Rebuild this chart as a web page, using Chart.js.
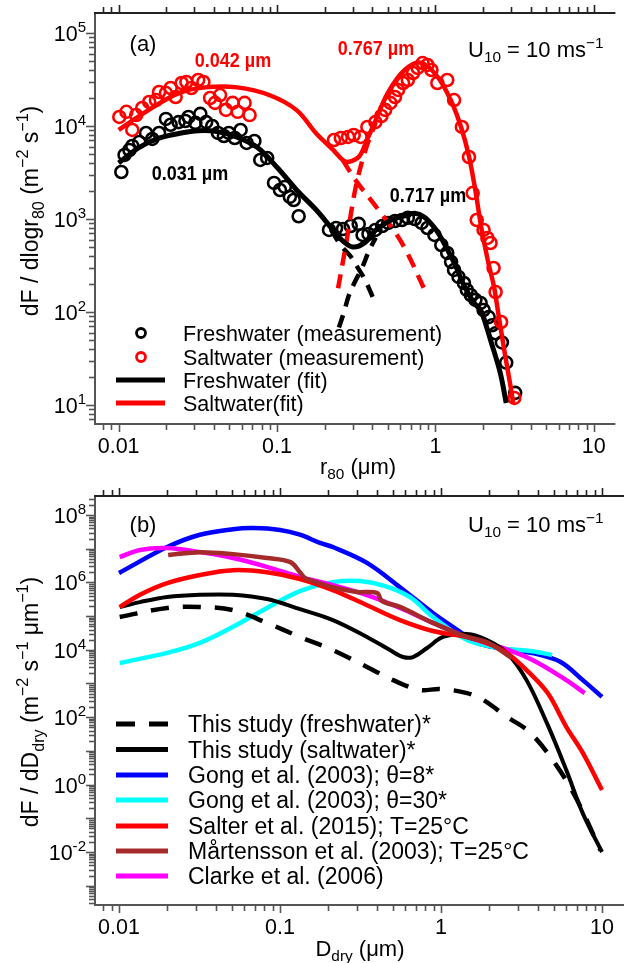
<!DOCTYPE html>
<html>
<head>
<meta charset="utf-8">
<script src="https://cdn.jsdelivr.net/npm/chart.js@4.4.1/dist/chart.umd.min.js"></script>
<style>
html, body { margin: 0; padding: 0; background: #fff; }
#wrap { position: relative; width: 624px; height: 963px; overflow: hidden; }
canvas { position: absolute; left: 0; }
#chartA { top: 0; }
#chartB { top: 480px; }
</style>
</head>
<body>
<div id="wrap">
  <canvas id="chartA" width="624" height="480"></canvas>
  <canvas id="chartB" width="624" height="483"></canvas>
</div>
<script>
// ---- tick labels ----
const xTickVals = [0.01, 0.1, 1, 10];
const xTickLabels = ['0.01', '0.1', '1', '10'];
const yExpA = [1, 2, 3, 4, 5];
const yExpB = [-2, 0, 2, 4, 6, 8];

// ---- panel (a): measurements ----
const freshMeasX = [0.0104, 0.0109, 0.0117, 0.0122, 0.0135, 0.0149, 0.0163, 0.0180, 0.0199, 0.0213, 0.0239, 0.0264, 0.0276, 0.0305, 0.0328, 0.0357, 0.0390, 0.0424, 0.0462, 0.0496, 0.0541, 0.0589, 0.0643, 0.0720, 0.0784, 0.0867, 0.0958, 0.1044, 0.112, 0.1205, 0.1276, 0.137,
  0.213, 0.236, 0.261, 0.292, 0.328, 0.347, 0.378, 0.418, 0.462, 0.504, 0.556, 0.615, 0.670, 0.741, 0.819, 0.891, 0.986, 1.09, 1.188, 1.257, 1.312, 1.40, 1.514, 1.58, 1.675, 1.79, 1.93, 2.015, 2.17, 2.28, 2.40, 2.63, 2.80, 3.19];
const freshMeasY = [3200, 4880, 5520, 6100, 6730, 8410, 7250, 8410, 11900, 10300, 11000, 11300, 12500, 10800, 13500, 11000, 10000, 8410, 7800, 8410, 7430, 9060, 6570, 6900, 4310, 4530, 2440, 2050, 2210, 1730, 1600, 1070,
  762, 800, 780, 840, 885, 673, 690, 762, 840, 906, 950, 975, 1030, 1000, 906, 800, 673, 525, 431, 346, 283, 238, 205, 173, 152, 135, 125, 105, 88, 72, 59, 47, 28.5, 13.5];
const saltMeasX = [0.0101, 0.0112, 0.0122, 0.0129, 0.0141, 0.0156, 0.0172, 0.0180, 0.0199, 0.0213, 0.0229, 0.0250, 0.0268, 0.0288, 0.0318, 0.0343, 0.0378, 0.0406, 0.0437, 0.0476, 0.0525, 0.0565, 0.0624, 0.0671,
  0.229, 0.253, 0.281, 0.305, 0.337, 0.372, 0.418, 0.456, 0.482, 0.52, 0.556, 0.581, 0.625, 0.670, 0.723, 0.773, 0.83, 0.891, 0.944, 1.029, 1.188, 1.312, 1.47, 1.63, 1.72, 1.825, 2.015, 2.13, 2.23, 2.33, 2.40, 2.60, 3.15];
const saltMeasY = [12500, 14200, 9060, 13100, 15600, 18100, 19000, 23200, 22600, 25600, 20500, 29000, 29700, 25600, 31200, 29700, 20000, 17700, 21500, 14900, 17700, 14200, 17700, 13100,
  7070, 7430, 7620, 8000, 7620, 9760, 11000, 12800, 14900, 17700, 20500, 24400, 29000, 31200, 37100, 42100, 47500, 45300, 40000, 29000, 31200, 19000, 9760, 4640, 1900, 975, 762, 625, 552, 297, 164, 78, 11.9];

// ---- panel (a): fits and modes ----
const freshFitX = [0.01, 0.0135, 0.018, 0.024, 0.032, 0.042, 0.056, 0.075, 0.1, 0.133, 0.177, 0.2, 0.25, 0.3, 0.36, 0.42, 0.53, 0.64, 0.74, 0.85, 0.99, 1.09, 1.25, 1.37, 1.5, 1.75, 1.93, 2.1, 2.23, 2.57, 2.8];
const freshFitY = [4000, 5900, 7400, 8300, 8900, 8700, 7600, 5900, 3600, 2050, 1250, 980, 620, 500, 560, 760, 980, 1080, 1150, 1050, 800, 620, 400, 290, 200, 126, 105, 70, 50, 22, 10.5];
const saltFitX = [0.01, 0.0156, 0.024, 0.035, 0.056, 0.09, 0.133, 0.177, 0.227, 0.26, 0.28, 0.33, 0.37, 0.42, 0.5, 0.64, 0.81, 1.03, 1.25, 1.45, 1.63, 1.8, 1.95, 2.15, 2.34, 2.5, 2.75, 3.0, 3.1];
const saltFitY = [9100, 15000, 22600, 26000, 26000, 21400, 14800, 8300, 5500, 4300, 4100, 4700, 7100, 11500, 22600, 40000, 48000, 34000, 19000, 9800, 4700, 1900, 800, 350, 190, 95, 35, 15, 10.5];
const freshMode1X = [0.22, 0.253, 0.29, 0.314, 0.36, 0.41];
const freshMode1Y = [760, 520, 400, 325, 220, 134];
const freshMode2X = [0.246, 0.265, 0.284, 0.31, 0.345, 0.38, 0.42];
const freshMode2Y = [68, 100, 150, 210, 300, 450, 630];
const saltMode1X = [0.26, 0.314, 0.436, 0.615, 0.89];
const saltMode1Y = [4300, 2600, 1260, 550, 150];
const saltMode2X = [0.243, 0.272, 0.314, 0.362, 0.42];
const saltMode2Y = [180, 520, 2200, 5500, 11000];

// ---- panel (b): parameterisations ----
const freshStudyX = [0.0101, 0.0199, 0.0318, 0.0511, 0.083, 0.133, 0.213, 0.347, 0.504, 0.741, 0.986, 1.45, 1.83, 2.57, 3.6, 5.3, 7.0, 9.8];
const freshStudyY = [9.4e4, 1.75e5, 1.87e5, 1.5e5, 6.3e4, 2.4e4, 9800, 3100, 1260, 640, 690, 520, 325, 102, 34, 3.3, 0.35, 0.011];
const saltStudyX = [0.0101, 0.0135, 0.0199, 0.0318, 0.0511, 0.083, 0.133, 0.213, 0.347, 0.482, 0.581, 0.670, 0.819, 1.03, 1.45, 1.93, 2.57, 3.4, 4.6, 6.0, 7.6, 10];
const saltStudyY = [1.85e5, 2.6e5, 3.7e5, 4.3e5, 4.3e5, 3.2e5, 1.6e5, 7.6e4, 2.4e4, 9800, 6100, 6100, 1.13e4, 2.4e4, 2.95e4, 1.95e4, 8000, 1260, 59, 2.7, 0.14, 0.01];
const gong8X = [0.01, 0.0199, 0.0318, 0.0511, 0.068, 0.1, 0.133, 0.177, 0.213, 0.347, 0.556, 0.891, 1.26, 1.675, 2.33, 3.7, 5.5, 7.6, 10];
const gong8Y = [1.9e6, 1.12e7, 2.6e7, 3.8e7, 4.1e7, 3.6e7, 2.6e7, 1.48e7, 1.12e7, 3.8e6, 7.2e5, 1.23e5, 3.9e4, 1.6e4, 1.12e4, 8000, 4400, 1260, 400];
const gong30X = [0.0101, 0.0199, 0.0318, 0.0511, 0.083, 0.133, 0.213, 0.314, 0.45, 0.64, 0.891, 1.45, 2.33, 3.7, 4.9];
const gong30Y = [4070, 8100, 1.6e4, 4.8e4, 1.75e5, 5.5e5, 1.02e6, 1.1e6, 7.8e5, 3.7e5, 9.4e4, 1.95e4, 1.12e4, 9100, 7000];
const salterX = [0.0101, 0.0135, 0.0199, 0.0318, 0.0511, 0.083, 0.133, 0.213, 0.347, 0.556, 0.891, 1.45, 1.93, 2.57, 3.4, 4.6, 6.0, 7.6, 10];
const salterY = [1.85e5, 4.3e5, 9.5e5, 1.66e6, 2.3e6, 2.0e6, 1.26e6, 5.9e5, 2.1e5, 7.6e4, 3.6e4, 2.4e4, 1.58e4, 8000, 2500, 520, 52, 8.7, 0.69];
const martX = [0.0202, 0.0318, 0.0511, 0.083, 0.116, 0.133, 0.143, 0.154, 0.213, 0.301, 0.40, 0.43, 0.556, 0.891, 1.45, 1.93, 2.33, 2.75];
const martY = [6.5e6, 7.9e6, 6.9e6, 5.3e6, 4.0e6, 2.0e6, 1.35e6, 1.17e6, 7.2e5, 5.2e5, 4.9e5, 2.8e5, 1.87e5, 6.3e4, 2.4e4, 1.7e4, 9800, 5700];
const clarkeX = [0.0101, 0.0135, 0.0199, 0.0318, 0.0511, 0.083, 0.133, 0.213, 0.347, 0.556, 0.891, 1.45, 2.33, 3.7, 6.0, 7.8];
const clarkeY = [5.6e6, 9.2e6, 1.05e7, 7.9e6, 5.3e6, 2.9e6, 1.45e6, 8.3e5, 4.2e5, 1.75e5, 6.3e4, 2.4e4, 1.2e4, 5000, 1260, 520];

const FONT = '"Liberation Sans", Arial, Helvetica, sans-serif';

function pts(xs, ys) {
  return xs.map((x, i) => ({ x: x, y: ys[i] }));
}

// draw text with sub/superscript parts, y is the baseline
function rich(ctx, parts, x, y, size, align) {
  const segs = parts.map(p => {
    const mode = p[1] || '';
    const s = mode ? size * 0.7 : size;
    ctx.font = s + 'px ' + FONT;
    return { t: p[0], mode: mode, s: s, w: ctx.measureText(p[0]).width };
  });
  const total = segs.reduce((a, b) => a + b.w, 0);
  let cx = align === 'center' ? x - total / 2 : align === 'right' ? x - total : x;
  ctx.textAlign = 'left';
  ctx.textBaseline = 'alphabetic';
  segs.forEach(sg => {
    ctx.font = sg.s + 'px ' + FONT;
    const dy = sg.mode === 'sup' ? -size * 0.42 : sg.mode === 'sub' ? size * 0.24 : 0;
    ctx.fillText(sg.t, cx, y + dy);
    cx += sg.w;
  });
}

function line(ctx, x1, y1, x2, y2) {
  ctx.beginPath();
  ctx.moveTo(x1, y1);
  ctx.lineTo(x2, y2);
  ctx.stroke();
}

// box, log ticks and tick labels
function drawAxes(chart, yExp, xLabelBase) {
  const ctx = chart.ctx;
  const a = chart.chartArea;
  const xs = chart.scales.x, ys = chart.scales.y;
  ctx.save();
  ctx.lineWidth = 2;
  ctx.strokeStyle = '#555';
  line(ctx, a.left - 1, a.top - 2, a.left - 1, a.bottom + 2);
  line(ctx, a.left - 2, a.bottom + 1, a.right, a.bottom + 1);
  ctx.strokeStyle = '#222';
  line(ctx, a.left - 2, a.top - 1, a.right, a.top - 1);

  ctx.lineWidth = 1.6;
  for (let d = -3; d <= 1; d++) {
    for (let k = 1; k <= 9; k++) {
      const v = k * Math.pow(10, d);
      if (v < xs.min || v > xs.max) continue;
      const px = Math.round(xs.getPixelForValue(v)) + 0.5;
      const len = k === 1 ? 7 : 5;
      ctx.strokeStyle = '#555';
      line(ctx, px, a.bottom + 2, px, a.bottom + 2 + len);
      ctx.strokeStyle = '#222';
      line(ctx, px, a.top - 2, px, a.top - 2 - len);
    }
  }
  ctx.strokeStyle = '#555';
  const d0 = Math.floor(Math.log10(ys.min)), d1 = Math.ceil(Math.log10(ys.max));
  for (let d = d0; d <= d1; d++) {
    for (let k = 1; k <= 9; k++) {
      const v = k * Math.pow(10, d);
      if (v < ys.min || v > ys.max) continue;
      const py = Math.round(ys.getPixelForValue(v)) + 0.5;
      const len = k === 1 ? 8 : 5;
      line(ctx, a.left - 2, py, a.left - 2 - len, py);
    }
  }

  ctx.fillStyle = '#000';
  xTickVals.forEach((v, i) => {
    rich(ctx, [[xTickLabels[i]]], xs.getPixelForValue(v), xLabelBase, 21.5, 'center');
  });
  yExp.forEach(e => {
    const py = ys.getPixelForValue(Math.pow(10, e));
    rich(ctx, [['10'], [String(e), 'sup']], 86, py + 8, 21.5, 'right');
  });
  ctx.restore();
}

function rotatedTitle(ctx, parts, x, y, size) {
  ctx.save();
  ctx.translate(x, y);
  ctx.rotate(-Math.PI / 2);
  rich(ctx, parts, 0, 0, size, 'center');
  ctx.restore();
}

function boldLabel(ctx, text, cx, base, color) {
  ctx.save();
  ctx.fillStyle = color;
  ctx.font = 'bold 20px ' + FONT;
  ctx.textAlign = 'center';
  ctx.textBaseline = 'alphabetic';
  ctx.translate(cx, base);
  ctx.scale(0.9, 1);
  ctx.fillText(text, 0, 0);
  ctx.restore();
}

const decorA = {
  id: 'decorA',
  afterDraw(chart) {
    const ctx = chart.ctx;
    drawAxes(chart, yExpA, 453);
    ctx.save();
    ctx.fillStyle = '#000';
    rich(ctx, [['r'], ['80', 'sub'], [' (μm)']], 358, 474, 22, 'center');
    rotatedTitle(ctx, [['dF / dlogr'], ['80', 'sub'], [' (m'], ['−2', 'sup'], [' s'], ['−1', 'sup'], [')']], 38, 211, 23);
    rich(ctx, [['(a)']], 143, 51, 22, 'center');
    rich(ctx, [['U'], ['10', 'sub'], [' = 10 ms'], ['−1', 'sup']], 468, 57, 22, 'left');
    boldLabel(ctx, '0.042 µm', 233, 67, '#ff0000');
    boldLabel(ctx, '0.767 µm', 376, 55, '#ff0000');
    boldLabel(ctx, '0.031 µm', 190, 180, '#000');
    boldLabel(ctx, '0.717 µm', 428, 202, '#000');

    // legend
    const rows = [333, 357, 380, 403];
    const texts = ['Freshwater (measurement)', 'Saltwater (measurement)', 'Freshwater (fit)', 'Saltwater(fit)'];
    const cols = ['#000', '#ff0000', '#000', '#ff0000'];
    rows.forEach((ry, i) => {
      ctx.strokeStyle = cols[i];
      if (i < 2) {
        ctx.lineWidth = 2.8;
        ctx.beginPath();
        ctx.arc(141, ry, 4.5, 0, Math.PI * 2);
        ctx.stroke();
      } else {
        ctx.lineWidth = 5;
        line(ctx, 116, ry, 165, ry);
      }
      ctx.fillStyle = '#000';
      rich(ctx, [[texts[i]]], 183, ry + 7.5, 21.5, 'left');
    });
    ctx.restore();
  }
};

const decorB = {
  id: 'decorB',
  afterDraw(chart) {
    const ctx = chart.ctx;
    drawAxes(chart, yExpB, 454);
    ctx.save();
    ctx.fillStyle = '#000';
    rich(ctx, [['D'], ['dry', 'sub'], [' (μm)']], 360, 476, 22, 'center');
    rotatedTitle(ctx, [['dF / dD'], ['dry', 'sub'], [' (m'], ['−2', 'sup'], [' s'], ['−1', 'sup'], [' μm'], ['−1', 'sup'], [')']], 38, 222, 23);
    rich(ctx, [['(b)']], 143, 52, 22, 'center');
    rich(ctx, [['U'], ['10', 'sub'], [' = 10 ms'], ['−1', 'sup']], 468, 52, 22, 'left');

    const rows = [244, 269.5, 295, 320, 346, 371, 396];
    const texts = ['This study (freshwater)*', 'This study (saltwater)*', 'Gong et al. (2003); θ=8*', 'Gong et al. (2003); θ=30*',
      'Salter et al. (2015); T=25°C', 'Mårtensson et al. (2003); T=25°C', 'Clarke et al. (2006)'];
    const cols = ['#000', '#000', '#0000ff', '#00ffff', '#ff0000', '#a52a2a', '#ff00ff'];
    rows.forEach((ry, i) => {
      ctx.strokeStyle = cols[i];
      ctx.lineWidth = 5;
      ctx.setLineDash(i === 0 ? [19, 14] : []);
      line(ctx, 116, ry, 168, ry);
      ctx.setLineDash([]);
      ctx.fillStyle = '#000';
      rich(ctx, [[texts[i]]], 188, ry + 8, 23, 'left');
    });
    ctx.restore();
  }
};

function fitLine(data, color, width, dash) {
  return {
    data: data, borderColor: color, borderWidth: width, borderDash: dash || [],
    pointRadius: 0, fill: false, tension: 0.35, showLine: true, borderJoinStyle: 'round'
  };
}

function circles(data, color) {
  return {
    data: data, borderColor: color, backgroundColor: 'rgba(0,0,0,0)', borderWidth: 2.6,
    pointRadius: 6, pointStyle: 'circle', showLine: false
  };
}

function logScale(min, max) {
  return { type: 'logarithmic', display: false, min: min, max: max, bounds: 'data' };
}

new Chart(document.getElementById('chartA'), {
  type: 'line',
  data: {
    datasets: [
      fitLine(pts(saltFitX, saltFitY), '#ff0000', 4.5),
      fitLine(pts(freshFitX, freshFitY), '#000', 5),
      fitLine(pts(saltMode1X, saltMode1Y), '#ff0000', 4.5, [14, 9]),
      fitLine(pts(saltMode2X, saltMode2Y), '#ff0000', 4.5, [14, 9]),
      fitLine(pts(freshMode1X, freshMode1Y), '#000', 4.5, [13, 9]),
      fitLine(pts(freshMode2X, freshMode2Y), '#000', 4.5, [13, 9]),
      circles(pts(saltMeasX, saltMeasY), '#ff0000'),
      circles(pts(freshMeasX, freshMeasY), '#000')
    ]
  },
  options: {
    responsive: false,
    animation: false,
    devicePixelRatio: 1,
    layout: { padding: { left: 96, right: 0, top: 14, bottom: 57 } },
    plugins: { legend: { display: false }, tooltip: { enabled: false } },
    scales: {
      x: logScale(Math.pow(10, -2 - 23 / 161), Math.pow(10, 1 + 22 / 161)),
      y: logScale(Math.pow(10, 0.806), Math.pow(10, 5.204))
    }
  },
  plugins: [decorA]
});

new Chart(document.getElementById('chartB'), {
  type: 'line',
  data: {
    datasets: [
      fitLine(pts(martX, martY), '#a52a2a', 4.5),
      fitLine(pts(salterX, salterY), '#ff0000', 4.5),
      fitLine(pts(saltStudyX, saltStudyY), '#000', 4),
      fitLine(pts(freshStudyX, freshStudyY), '#000', 4.5, [18, 14]),
      fitLine(pts(clarkeX, clarkeY), '#ff00ff', 4.5),
      fitLine(pts(gong30X, gong30Y), '#00ffff', 4.5),
      fitLine(pts(gong8X, gong8Y), '#0000ff', 4.5)
    ]
  },
  options: {
    responsive: false,
    animation: false,
    devicePixelRatio: 1,
    layout: { padding: { left: 96, right: 0, top: 17, bottom: 59 } },
    plugins: { legend: { display: false }, tooltip: { enabled: false } },
    scales: {
      x: logScale(Math.pow(10, -2 - 23 / 161), Math.pow(10, 1 + 22 / 161)),
      y: logScale(Math.pow(10, -3.543), Math.pow(10, 8.534))
    }
  },
  plugins: [decorB]
});
</script>
</body>
</html>
